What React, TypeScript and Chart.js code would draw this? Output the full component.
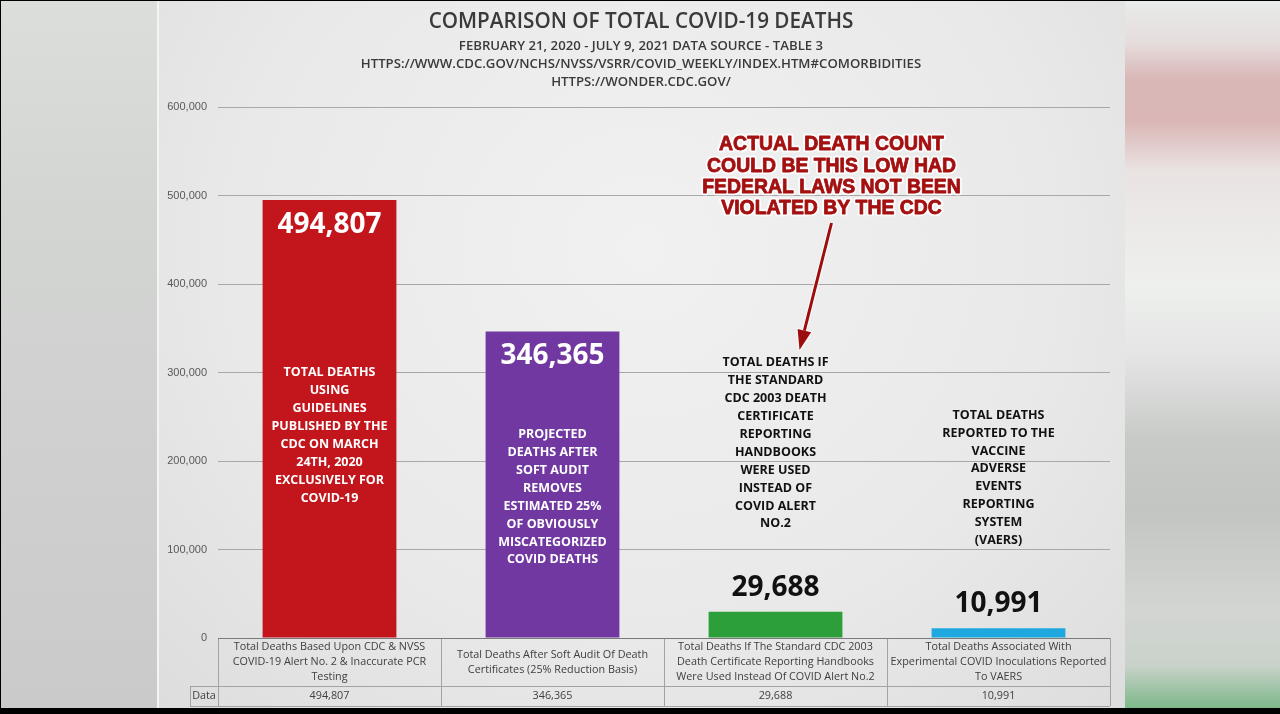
import React, { useEffect, useRef } from "react";
import { Chart, registerables } from "chart.js";

Chart.register(...registerables);

// ---------------- data ----------------
const categoryLines: string[][] = [
  ["Total Deaths Based Upon CDC & NVSS", "COVID-19 Alert No. 2 & Inaccurate PCR", "Testing"],
  ["Total Deaths After Soft Audit Of Death", "Certificates (25% Reduction Basis)"],
  ["Total Deaths If The Standard CDC 2003", "Death Certificate Reporting Handbooks", "Were Used Instead Of COVID Alert No.2"],
  ["Total Deaths Associated With", "Experimental COVID Inoculations Reported", "To VAERS"],
];
const deaths = [494807, 346365, 29688, 10991];
const barColors = ["#c3151c", "#7038a0", "#2c9e3a", "#1fa8e0"];
const labelColors = ["#ffffff", "#ffffff", "#111111", "#111111"];
const descriptions: string[][] = [
  ["TOTAL DEATHS", "USING", "GUIDELINES", "PUBLISHED BY THE", "CDC ON MARCH", "24TH, 2020", "EXCLUSIVELY FOR", "COVID-19"],
  ["PROJECTED", "DEATHS AFTER", "SOFT AUDIT", "REMOVES", "ESTIMATED 25%", "OF OBVIOUSLY", "MISCATEGORIZED", "COVID DEATHS"],
  ["TOTAL DEATHS IF", "THE STANDARD", "CDC 2003 DEATH", "CERTIFICATE", "REPORTING", "HANDBOOKS", "WERE USED", "INSTEAD OF", "COVID ALERT", "NO.2"],
  ["TOTAL DEATHS", "REPORTED TO THE", "VACCINE", "ADVERSE", "EVENTS", "REPORTING", "SYSTEM", "(VAERS)"],
];
// value (in deaths) at which each description block is vertically centred
const descriptionAnchors = [229000, 159000, 220000, 181000];
const yMin = 0;
const yMax = 600000;
const yStep = 100000;
const calloutLines = ["ACTUAL DEATH COUNT", "COULD BE THIS LOW HAD", "FEDERAL LAWS NOT BEEN", "VIOLATED BY THE CDC"];
const titleText = "COMPARISON OF TOTAL COVID-19 DEATHS";
const subtitleLines = [
  "FEBRUARY 21, 2020 - JULY 9, 2021 DATA SOURCE - TABLE 3",
  "HTTPS://WWW.CDC.GOV/NCHS/NVSS/VSRR/COVID_WEEKLY/INDEX.HTM#COMORBIDITIES",
  "HTTPS://WONDER.CDC.GOV/",
];
const tableRowLabel = "Data";

const fmt = (v: number) => v.toLocaleString("en-US");

const overlayPlugin = {
  id: "overlay",
  afterDatasetsDraw(chart: any) {
    const ctx: CanvasRenderingContext2D = chart.ctx;
    const x = chart.scales.x;
    const y = chart.scales.y;
    const area = chart.chartArea;
    const meta = chart.getDatasetMeta(0);
    ctx.save();
    ctx.textAlign = "center";
    ctx.textBaseline = "middle";

    // titles
    const titleX = 641;
    ctx.fillStyle = "#3a3a3a";
    ctx.font = "600 20.7px 'Open Sans', sans-serif";
    ctx.fillText(titleText, titleX, 22);
    ctx.font = "600 13.2px 'Open Sans', sans-serif";
    subtitleLines.forEach((t, k) => ctx.fillText(t, titleX, 46 + k * 18));

    // value labels
    ctx.font = "700 28px 'Open Sans', sans-serif";
    deaths.forEach((v, i) => {
      const bar = meta.data[i];
      const top = y.getPixelForValue(v);
      const inside = i < 2;
      ctx.fillStyle = labelColors[i];
      ctx.fillText(fmt(v), bar.x, inside ? top + 25 : top - 24);
    });

    // description texts
    ctx.font = "700 12.5px 'Open Sans', sans-serif";
    const lh = 17.9;
    descriptions.forEach((lines, i) => {
      const cx = x.getPixelForValue(i);
      const cy = y.getPixelForValue(descriptionAnchors[i]);
      const start = cy - ((lines.length - 1) * lh) / 2;
      ctx.fillStyle = labelColors[i];
      lines.forEach((t, k) => ctx.fillText(t, cx, start + k * lh));
    });

    // callout text
    const cX = x.getPixelForValue(2) + 56;
    ctx.font = "700 19.4px 'Liberation Sans', Arial, sans-serif";
    ctx.lineJoin = "round";
    calloutLines.forEach((t, k) => {
      const ty = 145 + k * 21.2;
      ctx.lineWidth = 4.5;
      ctx.strokeStyle = "rgba(255,255,255,0.9)";
      ctx.strokeText(t, cX, ty);
      ctx.lineWidth = 0.8;
      ctx.strokeStyle = "#a3100f";
      ctx.strokeText(t, cX, ty);
      ctx.fillStyle = "#a3100f";
      ctx.fillText(t, cX, ty);
    });

    // arrow
    const ax0 = x.getPixelForValue(2) + 56;
    const ay0 = 223;
    const ax1 = x.getPixelForValue(2) + 24;
    const ay1 = 350;
    const ang = Math.atan2(ay1 - ay0, ax1 - ax0);
    const headLen = 20;
    const headW = 7;
    const bx = ax1 - headLen * Math.cos(ang);
    const by = ay1 - headLen * Math.sin(ang);
    const drawArrow = (color: string, extra: number) => {
      ctx.strokeStyle = color;
      ctx.fillStyle = color;
      ctx.lineWidth = 3 + extra;
      ctx.beginPath();
      ctx.moveTo(ax0, ay0);
      ctx.lineTo(bx, by);
      ctx.stroke();
      ctx.beginPath();
      ctx.moveTo(ax1, ay1);
      ctx.lineTo(bx + headW * Math.sin(ang), by - headW * Math.cos(ang));
      ctx.lineTo(bx - headW * Math.sin(ang), by + headW * Math.cos(ang));
      ctx.closePath();
      if (extra > 0) {
        ctx.lineWidth = extra;
        ctx.stroke();
      }
      ctx.fill();
    };
    drawArrow("rgba(255,255,255,0.85)", 2);
    drawArrow("#9c0d0d", 0);

    // data table
    const left = area.left;
    const right = area.right;
    const colW = (right - left) / categoryLines.length;
    const r0 = area.bottom;
    const r1 = r0 + 48;
    const r2 = r1 + 20;
    const labelLeft = left - 28;
    ctx.lineWidth = 1;
    ctx.strokeStyle = "#a3a3a3";
    ctx.beginPath();
    ctx.moveTo(labelLeft, r1 + 0.5);
    ctx.lineTo(right, r1 + 0.5);
    ctx.moveTo(labelLeft, r2 + 0.5);
    ctx.lineTo(right, r2 + 0.5);
    ctx.moveTo(left + 0.5, r0);
    ctx.lineTo(left + 0.5, r2);
    ctx.moveTo(labelLeft + 0.5, r1);
    ctx.lineTo(labelLeft + 0.5, r2);
    for (let i = 1; i <= categoryLines.length; i++) {
      const vx = Math.round(left + i * colW) + 0.5;
      ctx.moveTo(vx, r0);
      ctx.lineTo(vx, r2);
    }
    ctx.stroke();
    ctx.strokeStyle = "#7a7a7a";
    ctx.beginPath();
    ctx.moveTo(left, r0 + 0.5);
    ctx.lineTo(right, r0 + 0.5);
    ctx.stroke();

    ctx.fillStyle = "#404040";
    ctx.font = "10.8px 'Open Sans', sans-serif";
    const tl = 15;
    categoryLines.forEach((lines, i) => {
      const cx = x.getPixelForValue(i);
      const mid = (r0 + r1) / 2;
      const start = mid - ((lines.length - 1) * tl) / 2;
      lines.forEach((t, k) => ctx.fillText(t, cx, start + k * tl));
      ctx.fillText(fmt(deaths[i]), cx, (r1 + r2) / 2);
    });
    ctx.fillText(tableRowLabel, (labelLeft + left) / 2, (r1 + r2) / 2);
    ctx.restore();
  },
};

export default function App() {
  const ref = useRef<HTMLCanvasElement | null>(null);
  useEffect(() => {
    if (!ref.current) return;
    const chart = new Chart(ref.current, {
      type: "bar",
      data: {
        labels: categoryLines.map((l) => l.join(" ")),
        datasets: [
          {
            data: deaths,
            backgroundColor: barColors,
            borderWidth: 0,
            categoryPercentage: 0.6,
            barPercentage: 1,
          },
        ],
      },
      options: {
        animation: false,
        responsive: false,
        devicePixelRatio: 1,
        layout: { padding: { top: 107, left: 150, right: 170, bottom: 76 } },
        plugins: {
          legend: { display: false },
          tooltip: { enabled: false },
          title: { display: false },
        },
        scales: {
          x: { display: false },
          y: {
            min: yMin,
            max: yMax,
            afterFit: (s: any) => {
              s.width = 68;
            },
            ticks: {
              stepSize: yStep,
              padding: 11,
              color: "#595959",
              font: { family: "'Liberation Sans', Arial, sans-serif", size: 11 },
              callback: (v: any) => fmt(Number(v)),
            },
            grid: { color: "#a8a8a8", drawTicks: false, tickLength: 0 },
            border: { display: false },
          },
        },
      },
      plugins: [overlayPlugin],
    });
    return () => chart.destroy();
  }, []);

  return (
    <div style={{ position: "fixed", left: 0, top: 0, width: 1280, height: 714, background: "#000", overflow: "hidden" }}>
      <div
        style={{
          position: "absolute",
          left: 1,
          top: 1,
          width: 156,
          height: 707,
          background: "linear-gradient(to bottom, #dcdedc 0%, #d3d5d3 30%, #cfd0cf 60%, #c9cac9 100%)",
        }}
      />
      <div style={{ position: "absolute", left: 157, top: 1, width: 2, height: 707, background: "#f4f4f4" }} />
      <div
        style={{
          position: "absolute",
          left: 159,
          top: 1,
          width: 966,
          height: 707,
          background: "radial-gradient(ellipse at 50% 35%, #f1f1f1 0%, #e8e9e8 60%, #dcdddc 100%)",
        }}
      />
      <div
        style={{
          position: "absolute",
          left: 1125,
          top: 1,
          width: 155,
          height: 707,
          background:
            "linear-gradient(to bottom, #e8ecea 0%, #e6dcdc 6%, #d9b7b7 11%, #dab6b6 17%, #e9e3e2 24%, #eef0ee 40%, #e4e5e4 50%, #c8cac8 62%, #c3c5c3 72%, #d3d5d3 86%, #c9d2ca 94%, #7db889 100%)",
        }}
      />
      <canvas ref={ref} width={1280} height={714} style={{ position: "absolute", left: 0, top: 0, width: 1280, height: 714 }} />
    </div>
  );
}
